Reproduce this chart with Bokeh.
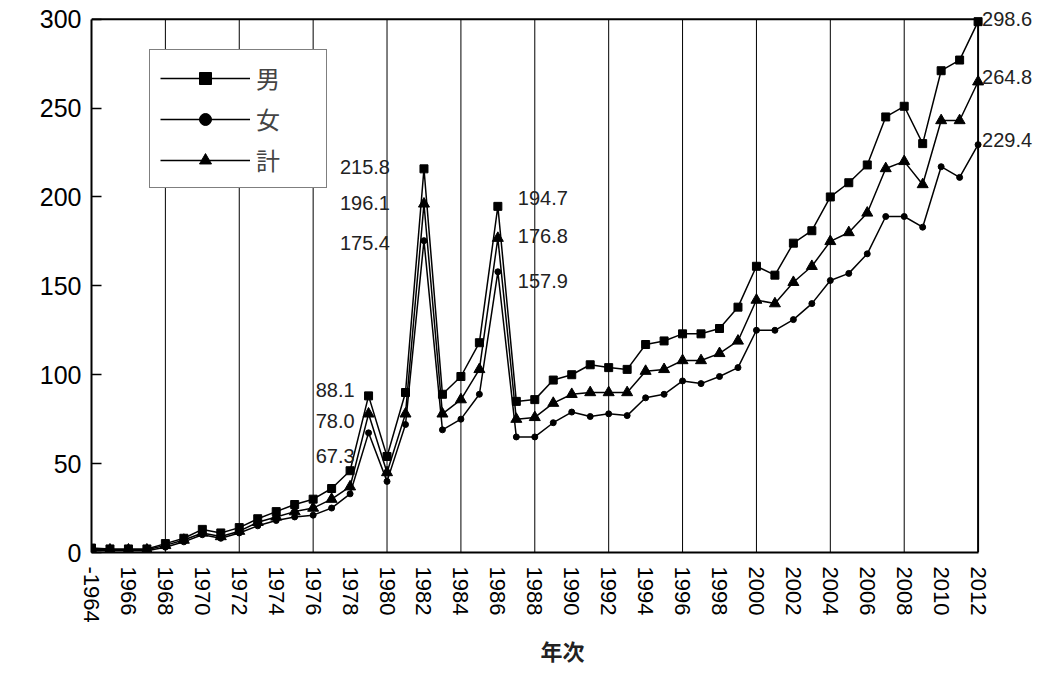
import math
from bokeh.plotting import figure
from bokeh.models import FixedTicker, Legend, LegendItem, Label, Range1d
from bokeh.embed import file_html
from bokeh.resources import INLINE

years = list(range(1964, 2013))
male = [2.5, 2, 2, 2, 5, 8, 13, 11, 14, 19, 23, 27, 30, 36, 46, 88.1, 54, 90, 215.8, 89, 99, 118, 194.7, 85, 86,
        97, 100, 105.6, 104, 103, 117, 119, 123, 123, 126, 138, 161, 156, 174, 181, 200, 208, 218, 245, 251, 230, 271, 277, 298.6]
female = [1, 1, 1, 1, 3, 6, 10, 8, 11, 15, 18, 20, 21, 25, 33, 67.3, 40, 72, 175.4, 69, 75, 89, 157.9, 65, 65,
          73, 79, 76.5, 78, 77, 87, 89, 96.5, 95, 99, 104, 125, 125, 131, 140, 153, 157, 168, 189, 189, 183, 217, 211, 229.4]
total = [1.5, 1.5, 1.5, 1.5, 4, 7, 11, 9, 12, 17, 20, 23, 25, 30, 37, 78.0, 45, 78, 196.1, 78, 86, 103, 176.8, 75, 76,
         84, 89, 90, 90, 90, 102, 103, 108, 108, 112, 119, 142, 140, 152, 161, 175, 180, 191, 216, 220, 207, 243, 243, 264.8]
tick_years = list(range(1964, 2013, 2))
tick_labels = {y: ("-1964" if y == 1964 else str(y)) for y in tick_years}
annot_years = [1979, 1982, 1986, 2012]
annot_values = [[88.1, 78.0, 67.3], [215.8, 196.1, 175.4], [194.7, 176.8, 157.9], [298.6, 264.8, 229.4]]
# label placement (data units) for the annotation texts
annot_pos = [[91.6, 73.7, 54.2], [217, 196.6, 174], [199.4, 178, 152.5], [300, 267.6, 231.8]]
annot_offset = [-14, -34, 20, 4]

X0, X1, XEND = 1964, 2012, 2015
Y0, Y1, YEND = 0, 300, 306
p = figure(width=1041, height=668, output_backend="svg", toolbar_location=None,
           x_range=Range1d(X0, XEND), y_range=Range1d(Y0, YEND),
           min_border_left=91, min_border_right=8, min_border_top=8, min_border_bottom=100)
p.outline_line_color = None

p.xaxis.ticker = FixedTicker(ticks=tick_years)
p.xaxis.bounds = (X0, X1)
p.xaxis.major_label_overrides = tick_labels
p.xaxis.major_label_orientation = -math.pi / 2
p.xaxis.major_label_text_font_size = "22px"
p.xaxis.major_label_text_font = "Liberation Sans"
p.xaxis.major_label_text_color = "black"
p.xaxis.major_label_standoff = 8
p.xaxis.major_tick_line_color = None
p.xaxis.minor_tick_line_color = None
p.xaxis.axis_line_width = 2
p.xaxis.axis_label = "年次"
p.xaxis.axis_label_text_font = "Noto Sans CJK JP"
p.xaxis.axis_label_text_font_size = "22px"
p.xaxis.axis_label_text_font_style = "bold"
p.xaxis.axis_label_text_color = "#222222"
p.xaxis.axis_label_standoff = 8
p.yaxis.ticker = FixedTicker(ticks=list(range(0, 301, 50)))
p.yaxis.bounds = (Y0, Y1)
p.yaxis.major_label_text_font_size = "25px"
p.yaxis.major_label_text_font = "Liberation Sans"
p.yaxis.major_label_text_color = "black"
p.yaxis.major_label_standoff = 10
p.yaxis.major_tick_in = 10
p.yaxis.major_tick_out = 0
p.yaxis.major_tick_line_width = 1.5
p.yaxis.minor_tick_line_color = None
p.yaxis.axis_line_width = 2
p.xgrid.grid_line_color = None
p.ygrid.grid_line_color = None

# vertical grid lines (limited to the data area) and top/right border
p.segment(x0=list(range(1968, 2012, 4)), y0=Y0, x1=list(range(1968, 2012, 4)), y1=Y1, color="black", line_width=1)
p.segment(x0=[X0, X1], y0=[Y1, Y0], x1=[X1, X1], y1=[Y1, Y1], color="black", line_width=2)

r1 = p.line(years, male, color="black", line_width=1.5)
m1 = p.scatter(years, male, marker="square", size=8, color="black")
r2 = p.line(years, female, color="black", line_width=1.5)
m2 = p.scatter(years, female, marker="circle", size=6, color="black")
r3 = p.line(years, total, color="black", line_width=1.5)
m3 = p.scatter(years, total, marker="triangle", size=11, color="black")

for yr, vals, pos, off in zip(annot_years, annot_values, annot_pos, annot_offset):
    for v, py in zip(vals, pos):
        p.add_layout(Label(x=yr, y=py, text=f"{v:.1f}", x_offset=off, text_font_size="20px",
                           text_font="Liberation Sans", text_color="#222222", text_baseline="middle",
                           text_align="right" if off < 0 else "left"))

legend = Legend(items=[LegendItem(label="男", renderers=[r1, m1]),
                       LegendItem(label="女", renderers=[r2, m2]),
                       LegendItem(label="計", renderers=[r3, m3])],
                location=(58, 364), orientation="vertical")
legend.label_text_font = "Noto Sans CJK JP"
legend.label_text_font_size = "24px"
legend.glyph_width = 90
legend.glyph_height = 30
legend.label_height = 30
legend.label_width = 60
legend.spacing = 6
legend.margin = 0
legend.label_standoff = 6
legend.border_line_color = "black"
legend.border_line_width = 1.5
legend.padding = 10
legend.background_fill_alpha = 1
p.add_layout(legend)

open("out.html", "w").write(file_html(p, INLINE))
